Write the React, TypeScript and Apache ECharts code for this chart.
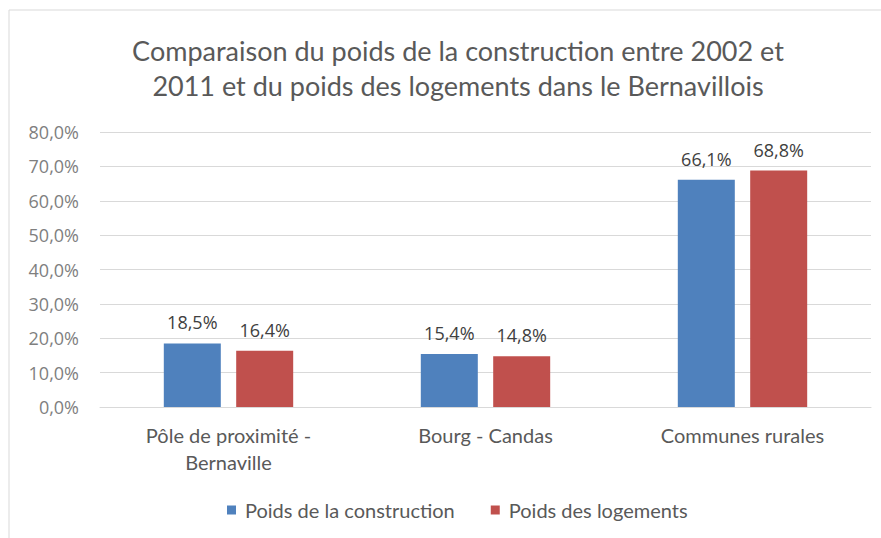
import React, { useEffect, useRef } from "react";
import * as echarts from "echarts";

const titleText = "Comparaison du poids de la construction entre 2002 et\n2011 et du poids des logements dans le Bernavillois";
const categories = ["Pôle de proximité -\nBernaville", "Bourg - Candas", "Communes rurales"];
const seriesNames = ["Poids de la construction", "Poids des logements"];
const construction = [18.5, 15.4, 66.1];
const logements = [16.4, 14.8, 68.8];
const yMin = 0;
const yMax = 80;
const yInterval = 10;

const fmt = (v: number) => v.toFixed(1).replace(".", ",") + "%";

export default function App() {
  const ref = useRef<HTMLDivElement>(null);
  useEffect(() => {
    if (!ref.current) return;
    const chart = echarts.init(ref.current, undefined, { renderer: "svg" });
    const font = "Lato, 'Open Sans', sans-serif";
    const numFont = "'Open Sans', sans-serif";
    chart.setOption({
      animation: false,
      backgroundColor: "#ffffff",
      title: {
        text: titleText,
        left: 453,
        textAlign: "center",
        top: 28,
        textStyle: {
          fontFamily: font,
          fontSize: 27,
          fontWeight: "normal",
          color: "#595959",
          lineHeight: 35,
        },
      },
      graphic: [
        {
          type: "rect",
          shape: { x: 9, y: 10, width: 900, height: 600 },
          style: { fill: "none", stroke: "#d9d9d9", lineWidth: 1 },
          silent: true,
        },
      ],
      legend: {
        top: 495,
        left: 222,
        itemWidth: 9,
        itemHeight: 9,
        itemGap: 36,
        icon: "rect",
        textStyle: {
          fontFamily: font,
          fontSize: 20,
          lineHeight: 20,
          color: "#595959",
          padding: [0, 0, 0, 4],
        },
        data: seriesNames,
      },
      grid: { left: 100, right: 10, top: 132, bottom: 131 },
      xAxis: {
        type: "category",
        data: categories,
        axisLine: { show: true, lineStyle: { color: "#d9d9d9" } },
        axisTick: { show: false },
        axisLabel: {
          fontFamily: font,
          fontSize: 20,
          color: "#595959",
          margin: 14,
          lineHeight: 27,
        },
      },
      yAxis: {
        type: "value",
        min: yMin,
        max: yMax,
        interval: yInterval,
        axisLine: { show: false },
        axisTick: { show: false },
        splitLine: { lineStyle: { color: "#d9d9d9" } },
        axisLabel: {
          fontFamily: numFont,
          fontSize: 18,
          color: "#7f7f7f",
          margin: 21,
          formatter: (v: number) => fmt(v),
        },
      },
      series: [
        {
          name: seriesNames[0],
          type: "bar",
          data: construction,
          barWidth: 57,
          barGap: "27%",
          itemStyle: { color: "#4F81BD" },
          label: {
            show: true,
            position: "top",
            distance: 12,
            fontFamily: numFont,
            fontSize: 18,
            color: "#404040",
            formatter: (p: any) => fmt(p.value),
          },
        },
        {
          name: seriesNames[1],
          type: "bar",
          data: logements,
          barWidth: 57,
          barGap: "27%",
          itemStyle: { color: "#C0504D" },
          label: {
            show: true,
            position: "top",
            distance: 12,
            fontFamily: numFont,
            fontSize: 18,
            color: "#404040",
            formatter: (p: any) => fmt(p.value),
          },
        },
      ],
    });
    return () => chart.dispose();
  }, []);
  return (
    <div
      ref={ref}
      style={{ position: "fixed", left: 0, top: 0, width: 881, height: 538 }}
    />
  );
}
